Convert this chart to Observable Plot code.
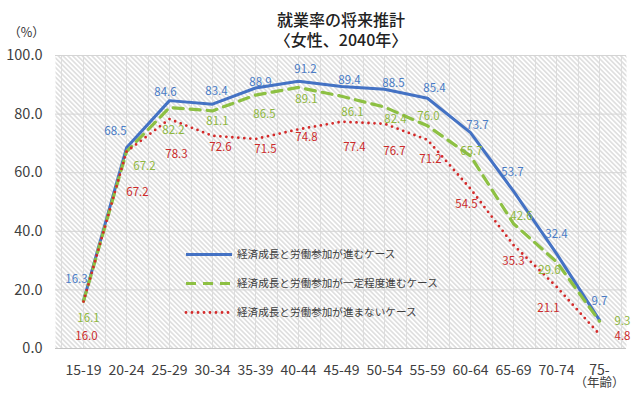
<!DOCTYPE html>
<html>
<head>
<meta charset="utf-8">
<script src="https://cdn.jsdelivr.net/npm/d3@7"></script>
<script src="https://cdn.jsdelivr.net/npm/@observablehq/plot@0.6"></script>
<style>
  html, body { margin: 0; padding: 0; background: #fff; }
  #chart svg { display: block; }
</style>
</head>
<body>
<div id="chart"></div>
<script>
// ---- data ----
const ages = ["15-19","20-24","25-29","30-34","35-39","40-44","45-49","50-54","55-59","60-64","65-69","70-74","75-"];
const seriesNames = [
  "経済成長と労働参加が進むケース",
  "経済成長と労働参加が一定程度進むケース",
  "経済成長と労働参加が進まないケース"
];
const growthFull    = [16.3, 68.5, 84.6, 83.4, 88.9, 91.2, 89.4, 88.5, 85.4, 73.7, 53.7, 32.4, 9.7];
const growthPartial = [16.1, 67.2, 82.2, 81.1, 86.5, 89.1, 86.1, 82.4, 76.0, 65.7, 42.6, 29.6, 9.3];
const growthNone    = [16.0, 67.2, 78.3, 72.6, 71.5, 74.8, 77.4, 76.7, 71.2, 54.5, 35.3, 21.1, 4.8];
const yTicks = [0, 20, 40, 60, 80, 100];
const titleText = "就業率の将来推計";
const subtitleText = "〈女性、2040年〉";
const yUnit = "（%）";
const xUnit = "（年齢）";

// ---- layout / style (not data) ----
const lineColors = ["#4472c4", "#8dc043", "#d42a2a"];
const labelColors = ["#4a7cc6", "#8fb83f", "#cc2b2b"];
const font = "'Noto Sans CJK JP', 'Noto Sans', sans-serif";
// label nudges (dx, dy in px) relative to each point, as placed in the original
const labelNudge = [
  [[-7,-21],[-11,-16],[-4,-8],[4,-13],[5,-6],[7,-12],[8,-6],[9,-6],[7,-10],[7,-7],[-1,-19],[0,-19],[0,-19]],
  [[5,17],[18,15],[4,23],[5,10],[9,19],[8,12],[11,16],[11,12],[1,-10],[1,-5],[8,-7],[-7,9],[23,0]],
  [[3,35],[11,41],[7,35],[8,12],[10,10],[8,8],[13,26],[10,28],[3,19],[-4,15],[0,16],[-8,22],[23,2]]
];

// ---- build table ----
const allSeries = [growthFull, growthPartial, growthNone];
const rows = [];
allSeries.forEach((vals, s) => vals.forEach((v, i) => rows.push({s, series: seriesNames[s], age: ages[i], i, value: v})));
const bySeries = s => rows.filter(d => d.s === s);

const W = 643, H = 396, ML = 55, MR = 17, MT = 55, MB = 48;
const step = (W - ML - MR) / ages.length;
const lastAge = ages[ages.length - 1];

const labelMarks = rows.map(d => Plot.text([d], {
  x: "age", y: "value", text: r => r.value.toFixed(1),
  fill: labelColors[d.s], fontSize: 11.5,
  dx: labelNudge[d.s][d.i][0], dy: labelNudge[d.s][d.i][1]
}));

const plot = Plot.plot({
  width: W, height: H,
  marginLeft: ML, marginRight: MR, marginTop: MT, marginBottom: MB,
  style: {fontFamily: font, background: "#fff", overflow: "visible"},
  x: {type: "point", domain: ages, padding: 0.5, label: null},
  y: {domain: [0, 100], label: null},
  marks: [
    Plot.frame({fill: "#ffffff", stroke: null}),
    // vertical grid at centers and boundaries
    Plot.ruleX(ages, {stroke: "#dcdcdc", strokeWidth: 1}),
    Plot.ruleX(ages, {stroke: "#dcdcdc", strokeWidth: 1, dx: step / 2}),
    Plot.ruleX(ages.slice(0, 1), {stroke: "#dcdcdc", strokeWidth: 1, dx: -step / 2}),
    Plot.ruleY(yTicks.slice(1), {stroke: "#d4d4d4", strokeWidth: 1}),
    Plot.ruleY([0], {stroke: "#c4c4c4", strokeWidth: 1.2}),
    Plot.axisX({tickSize: 0, tickPadding: 17, fontSize: 14, lineHeight: 0.98, color: "#404040", label: null,
      tickFormat: d => d === lastAge ? d + "\n" + xUnit : d}),
    Plot.axisY({ticks: yTicks, tickFormat: d => d.toFixed(1), tickSize: 0, tickPadding: 13, fontSize: 14.5, color: "#404040", label: null}),
    // lines
    Plot.line(bySeries(0), {x: "age", y: "value", stroke: lineColors[0], strokeWidth: 3, strokeLinejoin: "miter"}),
    Plot.line(bySeries(1), {x: "age", y: "value", stroke: lineColors[1], strokeWidth: 3.2, strokeDasharray: "10,7"}),
    Plot.line(bySeries(2), {x: "age", y: "value", stroke: lineColors[2], strokeWidth: 2.8, strokeDasharray: "0,6", strokeLinecap: "round"}),
    // labels
    ...labelMarks,
    // titles & units
    Plot.text([titleText + "\n" + subtitleText], {frameAnchor: "top", lineAnchor: "middle", dy: -26, fontSize: 16, lineHeight: 1.22, fontWeight: 500, fill: "#222", textAnchor: "middle"}),
    Plot.text([yUnit], {frameAnchor: "top-left", lineAnchor: "middle", dx: -29, dy: -23, fontSize: 12.5, fill: "#333", textAnchor: "middle"})
  ]
});

// hatch pattern (namespace-safe creation)
const svg = d3.select(plot);
const defs = svg.insert("defs", ":first-child");
const pat = defs.append("pattern").attr("id", "hatch").attr("patternUnits", "userSpaceOnUse")
  .attr("width", 3.4).attr("height", 3.4).attr("patternTransform", "rotate(-45)");
pat.append("rect").attr("width", 3.4).attr("height", 3.4).attr("fill", "#ffffff");
pat.append("line").attr("x1", 1.7).attr("y1", 0).attr("x2", 1.7).attr("y2", 3.4)
  .attr("stroke", "#c4c4c4").attr("stroke-width", 0.9);
svg.selectAll('[aria-label="frame"] rect, rect[aria-label="frame"]').attr("fill", "url(#hatch)");
svg.selectAll('g[aria-label="frame"]').attr("fill", "url(#hatch)");

// make the unit line of the last x tick slightly smaller
svg.selectAll('g[aria-label="x-axis tick label"] tspan').each(function() {
  if (this.textContent === xUnit) d3.select(this).attr("font-size", 12.5);
});

// legend (inside plot area)
const leg = svg.append("g").attr("font-family", font).attr("font-size", 10.6).attr("fill", "#404040").attr("text-anchor", "start");
const legDash = [null, "10,7", "0,6"];
const legWidth = [3, 3.2, 2.8];
seriesNames.forEach((name, i) => {
  const y = 254.5 + i * 29;
  const ln = leg.append("line").attr("x1", 186).attr("x2", 232).attr("y1", y).attr("y2", y)
    .attr("stroke", lineColors[i]).attr("stroke-width", legWidth[i]).attr("fill", "none");
  if (legDash[i]) ln.attr("stroke-dasharray", legDash[i]);
  if (i === 2) ln.attr("stroke-linecap", "round");
  leg.append("text").attr("x", 237).attr("y", y).attr("dy", "0.35em").attr("text-anchor", "start").text(name);
});

document.getElementById("chart").appendChild(plot);
</script>
</body>
</html>
